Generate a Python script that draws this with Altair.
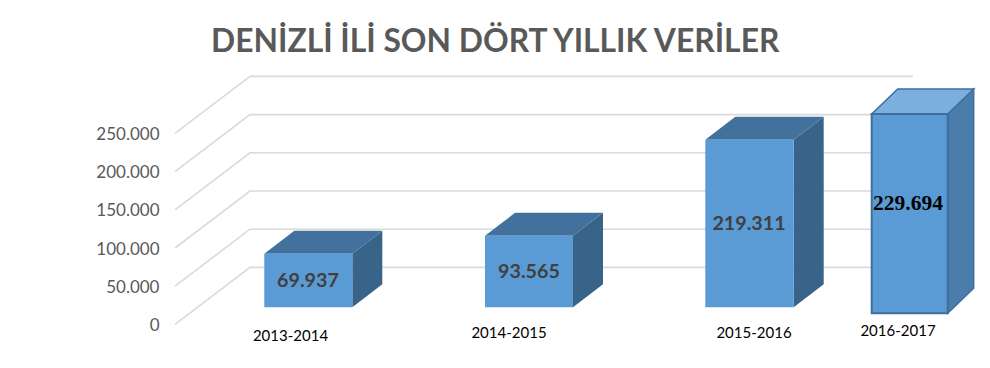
import altair as alt
import pandas as pd

# ---- chart values ----
TITLE = "DENİZLİ İLİ SON DÖRT YILLIK VERİLER"
categories = ["2013-2014", "2014-2015", "2015-2016", "2016-2017"]
values = [69937, 93565, 219311, 229694]
value_labels = ["69.937", "93.565", "219.311", "229.694"]
axis_ticks = [0, 50000, 100000, 150000, 200000, 250000]

# ---- layout of the pseudo-3D drawing (reference pixels) ----
W, H = 974, 352
PX_PER_UNIT = 38.2 / 50000
ZERO_Y = 324.4
SLOT_PX = 221.0
SLOT0_X = 308.0


def unit_y(py):  # page-pixel height -> value units
    return (ZERO_Y - py) / PX_PER_UNIT


def unit_x(px):  # page-pixel x -> slot units
    return (px - SLOT0_X) / SLOT_PX


DOM_X = [unit_x(8), unit_x(8 + W)]
DOM_Y = [unit_y(8 + H), unit_y(8)]

x_scale = alt.Scale(domain=DOM_X, nice=False, zero=False)
y_scale = alt.Scale(domain=DOM_Y, nice=False, zero=False)
y_axis = alt.Axis(
    values=axis_ticks, orient="left", offset=-151, grid=False, domain=False, ticks=False,
    labelPadding=0, labelFont="Lato", labelFontSize=17, labelColor="#595959", labelOffset=1,
    labelExpr="replace(format(datum.value, ',d'), ',', '.')", title=None)

# gridlines: floor-diagonal + back wall
GRID_LEFT, GRID_BACK, GRID_RIGHT, GRID_RISE = 175.0, 250.0, 913.0, 57.0
grid_rows = []
for t in axis_ticks:
    for px, rise in [(GRID_LEFT, 0), (GRID_BACK, GRID_RISE), (GRID_RIGHT, GRID_RISE)]:
        grid_rows.append({"tick": t, "x": unit_x(px), "y": t + rise / PX_PER_UNIT})
grid_df = pd.DataFrame(grid_rows)

# bar geometry; the fourth box sits apart, as in the reference
BASE = unit_y(307.3)
boxes = []
for i, (left, right) in enumerate([(264.3, 352.3), (485.0, 573.0), (705.3, 793.7)]):
    boxes.append(dict(xl=unit_x(left), xr=unit_x(right), base=BASE, top=BASE + values[i],
                      dx=30 / SLOT_PX, dy=23 / PX_PER_UNIT))
boxes.append(dict(xl=unit_x(871.7), xr=unit_x(947.7), base=unit_y(313.3), top=unit_y(114.0),
                  dx=26 / SLOT_PX, dy=25 / PX_PER_UNIT))


def side_rows(b, k):
    return [dict(k=k, x=b["xr"], y=b["base"], y2=b["top"]),
            dict(k=k, x=b["xr"] + b["dx"], y=b["base"] + b["dy"], y2=b["top"] + b["dy"])]


def top_rows(b, k):
    t, d = b["top"], b["dy"]
    return [dict(k=k, x=b["xl"], y=t, y2=t),
            dict(k=k, x=b["xl"] + b["dx"], y=t, y2=t + d),
            dict(k=k, x=b["xr"], y=t, y2=t + d),
            dict(k=k, x=b["xr"] + b["dx"], y=t + d, y2=t + d)]


def area_layer(rows, fill, **mark):
    return alt.Chart(pd.DataFrame(rows)).mark_area(orient="vertical", interpolate="linear", color=fill, **mark).encode(
        x=alt.X("x:Q", scale=x_scale, axis=None),
        y=alt.Y("y:Q", scale=y_scale, axis=y_axis),
        y2="y2:Q",
        detail="k:N",
    )


def front_layer(bs, fill, **mark):
    df = pd.DataFrame(bs)
    return alt.Chart(df).mark_rect(color=fill, **mark).encode(
        x=alt.X("xl:Q", scale=x_scale, axis=None), x2="xr:Q",
        y=alt.Y("base:Q", scale=y_scale, axis=y_axis), y2="top:Q",
    )


grid = alt.Chart(grid_df).mark_line(color="#DADADA", strokeWidth=1.6).encode(
    x=alt.X("x:Q", scale=x_scale, axis=None),
    y=alt.Y("y:Q", scale=y_scale, axis=y_axis),
    detail="tick:N",
)

STROKE4 = "#3F6F9C"
b3, b4 = boxes[:3], boxes[3]
layers = [
    grid,
    area_layer(sum((side_rows(b, i) for i, b in enumerate(b3)), []), "#396489"),
    area_layer(sum((top_rows(b, i) for i, b in enumerate(b3)), []), "#41719C"),
    front_layer(b3, "#5B9BD5"),
    area_layer(side_rows(b4, 3), "#4A7DAC", stroke=STROKE4, strokeWidth=1.5),
    area_layer(top_rows(b4, 3), "#7CAEDE", stroke=STROKE4, strokeWidth=1.5),
    front_layer([b4], "#5B9BD5", stroke=STROKE4, strokeWidth=2),
]


def text_layer(rows, **mark):
    return alt.Chart(pd.DataFrame(rows)).mark_text(align="center", baseline="middle", **mark).encode(
        x=alt.X("x:Q", scale=x_scale, axis=None),
        y=alt.Y("y:Q", scale=y_scale, axis=y_axis),
        text="t:N",
    )


# category labels
cat_pos = [(290.5, 336), (509, 333), (754, 333), (898, 331)]
layers.append(text_layer(
    [dict(x=unit_x(p[0]), y=unit_y(p[1]), t=c) for p, c in zip(cat_pos, categories)],
    font="Lato", fontSize=15, color="#000000"))

# value labels
val_pos = [308, 529, 749]
layers.append(text_layer(
    [dict(x=unit_x(val_pos[i]), y=BASE + values[i] / 2, t=value_labels[i]) for i in range(3)],
    font="Lato", fontWeight="bold", fontSize=19.7, color="#404040"))
layers.append(text_layer(
    [dict(x=unit_x(908), y=unit_y(204), t=value_labels[3])],
    font="Liberation Serif", fontWeight="bold", fontSize=21.5, color="#000000"))

chart = alt.layer(*layers).properties(
    width=W, height=H, padding=0, autosize=alt.AutoSizeParams(type="none"),
    title=alt.TitleParams(TITLE, font="Lato", fontWeight="bold", fontSize=31.8, color="#595959",
                          anchor="start", frame="group", offset=-76, dx=203, baseline="alphabetic"),
).configure_view(stroke=None)

chart.save("out.html", embed_options={"renderer": "svg", "actions": False})
